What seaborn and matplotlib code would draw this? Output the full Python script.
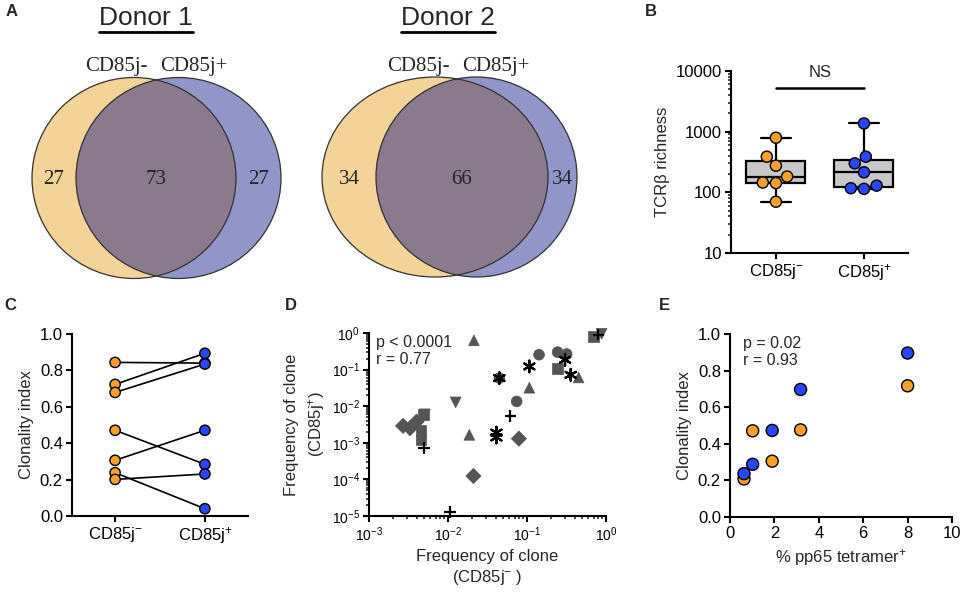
import numpy as np
import pandas as pd
import matplotlib
matplotlib.use("Agg")
import matplotlib.pyplot as plt
import matplotlib.ticker as mticker
from matplotlib.patches import Ellipse
import seaborn as sns

# ---- data -------------------------------------------------------------
# A: shared / private clonotypes (%) per donor
donors = ["Donor 1", "Donor 2"]
venn_left = [27, 34]
venn_shared = [73, 66]
venn_right = [27, 34]

# B: TCRb richness
rich_neg = [794, 387, 275, 182, 145, 142, 70]
rich_pos = [1365, 387, 300, 214, 129, 114, 117]

# C: clonality index, paired by donor sample
clon_neg = [0.844, 0.723, 0.679, 0.471, 0.306, 0.238, 0.201]
clon_pos = [0.840, 0.894, 0.835, 0.284, 0.471, 0.040, 0.231]

# D: clone frequencies (CD85j- vs CD85j+), one marker per donor
freq_shape = (["circle"] * 5 + ["square"] * 5 + ["tri_up"] * 4 + ["tri_down"] * 3
              + ["diamond"] * 5)
freq_neg = [0.142, 0.244, 0.318, 0.074, 0.0447,
            0.242, 0.00455, 0.00455, 0.0049, 0.69,
            0.0213, 0.45, 0.107, 0.0186,
            0.0125, 0.0051, 0.88,
            0.0027, 0.0033, 0.0040, 0.079, 0.021]
freq_pos = [0.255, 0.30, 0.266, 0.0135, 0.0586,
            0.106, 0.0022, 0.0012, 0.0058, 0.81,
            0.63, 0.061, 0.032, 0.00165,
            0.0127, 0.0060, 0.95,
            0.0029, 0.0025, 0.0038, 0.0013, 0.000124]
line_shape = ["plus"] * 4 + ["star"] * 6
line_neg = [0.0615, 0.0106, 0.0050, 0.80,
            0.107, 0.0447, 0.303, 0.357, 0.041, 0.041]
line_pos = [0.0055, 1.3e-5, 0.00071, 0.90,
            0.122, 0.0586, 0.186, 0.072, 0.0019, 0.0014]

# E: clonality vs % pp65 tetramer+
tet_pct = [0.63, 1.02, 1.90, 3.18, 8.0]
tet_clon_neg = [0.208, 0.471, 0.305, 0.476, 0.717]
tet_clon_pos = [0.237, 0.288, 0.473, 0.697, 0.896]

# ---- style ------------------------------------------------------------
ORANGE = "#F5A02A"
BLUE = "#2B45F5"
GREY = "#555555"
NEG = "CD85j$^{-}$"
POS = "CD85j$^{+}$"

sns.set_style("ticks")
plt.rcParams["font.family"] = ["Liberation Sans", "DejaVu Sans"]
plt.rcParams["mathtext.fontset"] = "custom"
plt.rcParams["mathtext.rm"] = "Liberation Sans"
plt.rcParams["mathtext.it"] = "Liberation Sans:italic"
plt.rcParams["mathtext.bf"] = "Liberation Sans:bold"
plt.rcParams["axes.linewidth"] = 1.5
plt.rcParams["xtick.major.width"] = 1.5
plt.rcParams["ytick.major.width"] = 1.5
plt.rcParams["xtick.minor.width"] = 1.2
plt.rcParams["ytick.minor.width"] = 1.2
plt.rcParams["xtick.major.size"] = 4.5
plt.rcParams["ytick.major.size"] = 4.5
plt.rcParams["xtick.minor.size"] = 2.5
plt.rcParams["ytick.minor.size"] = 2.5

W, H = 966, 603
fig = plt.figure(figsize=(W / 100, H / 100), dpi=100)


def px_axes(left, top, right, bottom, **kw):
    return fig.add_axes([left / W, 1 - bottom / H, (right - left) / W, (bottom - top) / H], **kw)


def style_axes(ax, fs=11.5):
    sns.despine(ax=ax)
    ax.tick_params(labelsize=fs, colors="black", pad=2)
    for s in ax.spines.values():
        s.set_color("black")


# ---- A: Venn diagrams -------------------------------------------------
ax_a = fig.add_axes([0, 0, 1, 1])
ax_a.set_xlim(0, W)
ax_a.set_ylim(H, 0)
ax_a.axis("off")

venn_geom = [
    dict(cx=146, lc=(134, 178), lw=204, rc=(178.5, 178), rw=205, h=201),
    dict(cx=448, lc=(435, 177), lw=226, rc=(476.5, 177), rw=201, h=200),
]
for name, nl, ns, nr, g in zip(donors, venn_left, venn_shared, venn_right, venn_geom):
    left = Ellipse(g["lc"], g["lw"], g["h"], facecolor="#F3D397", edgecolor="none")
    right = Ellipse(g["rc"], g["rw"], g["h"], facecolor="#9195C8", edgecolor="none")
    ax_a.add_patch(left)
    ax_a.add_patch(right)
    inter = Ellipse(g["rc"], g["rw"], g["h"], facecolor="#8B798D", edgecolor="none")
    ax_a.add_patch(inter)
    inter.set_clip_path(left)
    for c, w in [(g["lc"], g["lw"]), (g["rc"], g["rw"])]:
        ax_a.add_patch(Ellipse(c, w, g["h"], facecolor="none", edgecolor="#333333", lw=0.9))
    ly = g["lc"][1]
    l_x = (g["lc"][0] - g["lw"] / 2 + g["rc"][0] - g["rw"] / 2) / 2
    r_x = (g["lc"][0] + g["lw"] / 2 + g["rc"][0] + g["rw"] / 2) / 2
    m_x = (g["rc"][0] - g["rw"] / 2 + g["lc"][0] + g["lw"] / 2) / 2
    for xx, val in [(l_x, nl), (m_x, ns), (r_x, nr)]:
        ax_a.text(xx, ly + 2, str(val), ha="center", va="center", fontsize=15,
                  family="Liberation Serif")
    ax_a.text(g["cx"] - 30, 67, "CD85j-", ha="center", va="center", fontsize=15,
              family="Liberation Serif")
    ax_a.text(g["cx"] + 48, 67, "CD85j+", ha="center", va="center", fontsize=15,
              family="Liberation Serif")
    ax_a.text(g["cx"], 18, name, ha="center", va="center", fontsize=19)
    ax_a.plot([g["cx"] - 47, g["cx"] + 47], [32, 32], color="black", lw=2)

for lab, (xx, yy) in zip("ABCDE", [(12, 12), (651, 12), (10, 305), (291, 305), (664, 305)]):
    ax_a.text(xx, yy, lab, ha="center", va="center", fontsize=12, fontweight="bold")

# ---- B: richness box plot ---------------------------------------------
ax_b = px_axes(731, 71, 908, 253)
df_b = pd.DataFrame({
    "group": [NEG] * len(rich_neg) + [POS] * len(rich_pos),
    "richness": rich_neg + rich_pos,
})
sns.boxplot(data=df_b, x="group", y="richness", ax=ax_b, whis=(0, 100), width=0.67,
            color="#C8C8C8", linecolor="black", linewidth=1.6, showfliers=False,
            log_scale=True)
sns.swarmplot(data=df_b, x="group", y="richness", hue="group", ax=ax_b,
              palette=[ORANGE, BLUE], size=8, edgecolor="black", linewidth=1,
              legend=False, zorder=5)
ax_b.set_ylim(10, 10000)
ax_b.set_xlim(-0.51, 1.5)
ax_b.yaxis.set_major_locator(mticker.LogLocator(base=10, numticks=10))
ax_b.yaxis.set_minor_locator(mticker.LogLocator(base=10, subs=np.arange(2, 10), numticks=20))
ax_b.yaxis.set_major_formatter(mticker.FuncFormatter(lambda v, p: f"{v:g}"))
ax_b.yaxis.set_minor_formatter(mticker.NullFormatter())
ax_b.set_xlabel("")
ax_b.set_ylabel("TCRβ richness", fontsize=12, labelpad=4)
ax_b.plot([0, 1], [5250, 5250], color="black", lw=1.8, clip_on=False)
ax_b.text(0.5, 7200, "NS", ha="center", va="bottom", fontsize=12)
style_axes(ax_b, 12)

# ---- C: paired clonality ----------------------------------------------
ax_c = px_axes(72, 334, 248, 516)
n_pairs = len(clon_neg)
df_c = pd.DataFrame({
    "pair": list(range(n_pairs)) * 2,
    "pos": [0] * n_pairs + [1] * n_pairs,
    "group": ["neg"] * n_pairs + ["pos"] * n_pairs,
    "clonality": clon_neg + clon_pos,
})
sns.lineplot(data=df_c, x="pos", y="clonality", units="pair", estimator=None,
             color="black", lw=1.2, ax=ax_c, legend=False)
sns.scatterplot(data=df_c, x="pos", y="clonality", hue="group",
                palette={"neg": ORANGE, "pos": BLUE}, s=55, edgecolor="black",
                linewidth=1, ax=ax_c, legend=False, zorder=5, clip_on=False)
ax_c.set_xlim(-0.48, 1.48)
ax_c.set_ylim(0, 1)
ax_c.set_xticks([0, 1], [NEG, POS])
ax_c.set_yticks(np.arange(0, 1.01, 0.2))
ax_c.yaxis.set_major_formatter(mticker.FormatStrFormatter("%.1f"))
ax_c.set_xlabel("")
ax_c.set_ylabel("Clonality index", fontsize=12, labelpad=4)
style_axes(ax_c, 12)

# ---- D: clone frequency scatter ---------------------------------------
ax_d = px_axes(369, 333, 606, 516)
ax_d.set_xscale("log")
ax_d.set_yscale("log")
df_d = pd.DataFrame({"neg": freq_neg, "pos": freq_pos, "shape": freq_shape})
df_d2 = pd.DataFrame({"neg": line_neg, "pos": line_pos, "shape": line_shape})
sns.scatterplot(data=df_d, x="neg", y="pos", style="shape", ax=ax_d, color=GREY,
                markers={"circle": "o", "square": "s", "tri_up": "^",
                         "tri_down": "v", "diamond": "D"},
                s=60, edgecolor=GREY, linewidth=0.5, legend=False, clip_on=False)
sns.scatterplot(data=df_d2, x="neg", y="pos", style="shape", ax=ax_d, color="black",
                markers={"plus": "+", "star": (6, 2, 0)},
                s=70, linewidth=1.6, legend=False, clip_on=False, zorder=4)
ax_d.set_xlim(1e-3, 1)
ax_d.set_ylim(1e-5, 1)
ax_d.xaxis.set_major_locator(mticker.LogLocator(base=10, numticks=10))
ax_d.yaxis.set_major_locator(mticker.LogLocator(base=10, numticks=10))
ax_d.xaxis.set_minor_locator(mticker.LogLocator(base=10, subs=np.arange(2, 10), numticks=20))
ax_d.yaxis.set_minor_locator(mticker.LogLocator(base=10, subs=np.arange(2, 10), numticks=20))
ax_d.xaxis.set_minor_formatter(mticker.NullFormatter())
ax_d.yaxis.set_minor_formatter(mticker.NullFormatter())
ax_d.set_xlabel("Frequency of clone\n(CD85j$^{-}$ )", fontsize=12, linespacing=1.3)
ax_d.set_ylabel("Frequency of clone\n(CD85j$^{+}$)", fontsize=12, linespacing=1.5,
                labelpad=3)
ax_d.text(0.03, 0.99, "p < 0.0001\nr = 0.77", transform=ax_d.transAxes, ha="left",
          va="top", fontsize=11.5, linespacing=1.2)
style_axes(ax_d, 10)

# ---- E: clonality vs tetramer -----------------------------------------
ax_e = px_axes(730, 334, 952, 517)
df_e = pd.DataFrame({
    "tet": tet_pct * 2,
    "clonality": tet_clon_neg + tet_clon_pos,
    "group": ["neg"] * len(tet_pct) + ["pos"] * len(tet_pct),
})
sns.scatterplot(data=df_e, x="tet", y="clonality", hue="group",
                palette={"neg": ORANGE, "pos": BLUE}, s=75, edgecolor="black",
                linewidth=1, ax=ax_e, legend=False, zorder=5)
ax_e.set_xlim(0, 10)
ax_e.set_ylim(0, 1)
ax_e.set_xticks(np.arange(0, 11, 2))
ax_e.set_yticks(np.arange(0, 1.01, 0.2))
ax_e.yaxis.set_major_formatter(mticker.FormatStrFormatter("%.1f"))
ax_e.set_xlabel("% pp65 tetramer$^{+}$", fontsize=12)
ax_e.set_ylabel("Clonality index", fontsize=12, labelpad=4)
ax_e.text(0.06, 0.99, "p = 0.02\nr = 0.93", transform=ax_e.transAxes, ha="left",
          va="top", fontsize=11.5, linespacing=1.2)
style_axes(ax_e, 12)

fig.savefig("out.png", dpi=100)
